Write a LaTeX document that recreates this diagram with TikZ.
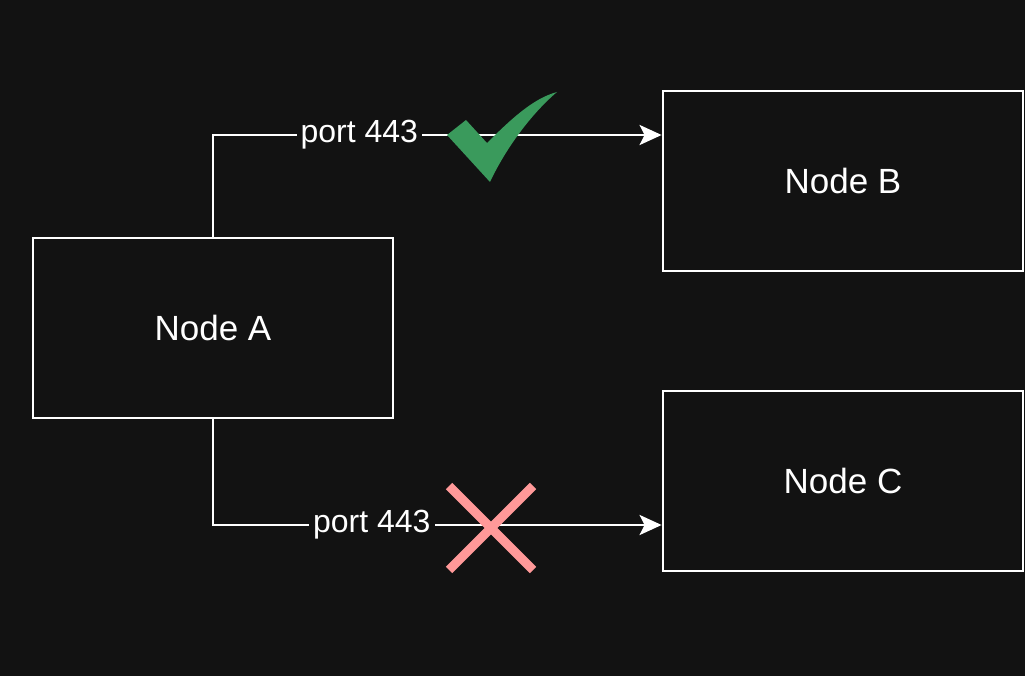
\documentclass[tikz,border=0pt]{standalone}
\usepackage{fontspec}
\setmainfont{Liberation Sans}
\usetikzlibrary{arrows.meta}
\definecolor{bgdark}{HTML}{121212}
\definecolor{okgreen}{HTML}{3A9A5C}
\definecolor{badpink}{HTML}{FF9999}
\tikzset{
  box/.style={draw=white, line width=2.8pt, minimum width=360pt, minimum height=180pt, text=white, font=\fontsize{35}{40}\selectfont},
  link/.style={draw=white, line width=2.8pt, -{Stealth[length=22pt,width=20pt,inset=5pt]}},
  portlabel/.style={fill=bgdark, text=white, font=\fontsize{32}{36}\selectfont, inner sep=4pt}
}
\begin{document}
\begin{tikzpicture}[x=1pt, y=-1pt]
  % background
  \fill[bgdark] (0,0) rectangle (1025,676);
  \useasboundingbox (0,0) rectangle (1025,676);

  % the three boxes
  \node[box] (nodeA) at (213,328) {Node A};
  \node[box] (nodeB) at (843,181) {Node B};
  \node[box] (nodeC) at (843,481) {Node C};

  % connections
  \draw[link] (nodeA.north) |- node[portlabel, pos=0.663] {port 443} ([yshift=46pt]nodeB.west);
  \draw[link] (nodeA.south) |- node[portlabel, pos=0.677] {port 443} ([yshift=-44pt]nodeC.west);

  % allowed mark
  \fill[okgreen] (447,135) -- (466,120) -- (487,143) .. controls (515,115) and (535,98) .. (557,92)
    .. controls (530,115) and (505,150) .. (490,182) -- cycle;

  % blocked mark
  \draw[badpink, line width=9pt] (449,486) -- (533,570) (533,486) -- (449,570);
\end{tikzpicture}
\end{document}
